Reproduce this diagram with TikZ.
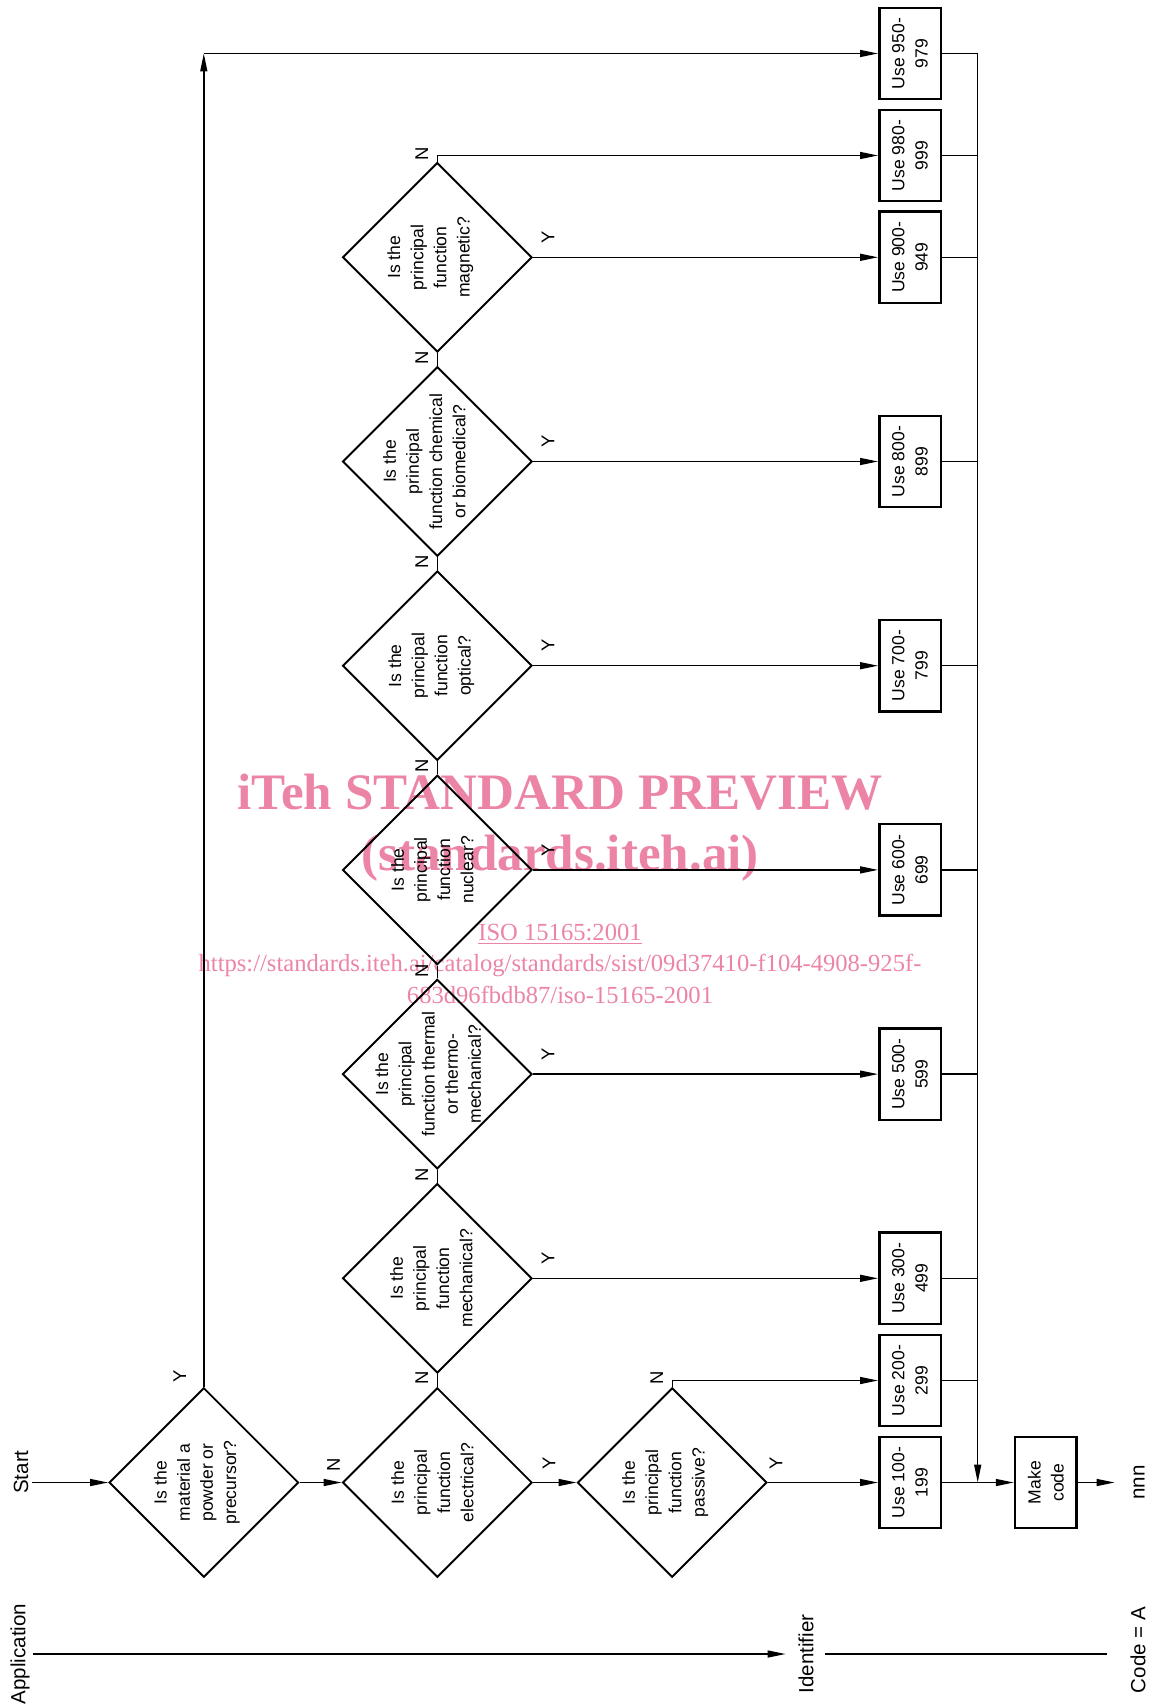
\documentclass[tikz,border=0pt]{standalone}
\usepackage{fontspec}
\setmainfont{Liberation Sans}
\newfontfamily\wmfont{Liberation Serif}
\usetikzlibrary{arrows.meta,calc,shapes.geometric}
\definecolor{wmpink}{RGB}{236,133,165}
\tikzset{flow/.style={line width=0.8pt, -{Triangle[length=3.6mm, width=1.4mm]}},
  link/.style={line width=0.8pt},
  dec/.style={diamond, draw, line width=1.1pt, minimum width=3.79cm, minimum height=3.79cm, inner sep=0pt},
  blk/.style={draw, line width=1.4pt, minimum width=1.23cm, minimum height=1.83cm, inner sep=0pt},
  qtxt/.style={rotate=90, align=center, inner sep=0pt, font=\fontsize{10}{13.2}\selectfont},
  yn/.style={rotate=90, inner sep=0pt, font=\fontsize{10.5}{12}\selectfont},
  lbl/.style={rotate=90, inner sep=2pt, font=\fontsize{11.7}{14}\selectfont},
  wm/.style={text=wmpink, inner sep=0pt, font=\wmfont\fontsize{14}{17}\selectfont}}

\begin{document}
\begin{tikzpicture}[x=0.02cm, y=-0.02cm]
  \useasboundingbox (0,0) rectangle (1155,1706);
  % watermark, behind the chart
  \node[wm, font=\wmfont\bfseries\fontsize{29.1}{30}\selectfont] (wm1) at (560,792) {iTeh STANDARD PREVIEW};
  \node[wm, font=\wmfont\bfseries\fontsize{29.1}{30}\selectfont] (wm2) at (560,858) {(standards.iteh.ai)};
  \node[wm] (wm3) at (560,934) {\underline{ISO 15165:2001}};
  \node[wm] (wm4) at (560,965.5) {https://standards.iteh.ai/catalog/standards/sist/09d37410-f104-4908-925f-};
  \node[wm] (wm5) at (560,994.5) {683d96fbdb87/iso-15165-2001};

  % decisions
  \node[dec] (pow) at (203.8,1482.5) {};
  \node[qtxt] (pow-t) at ($(pow)+(-7,0)$) {Is the\\material a\\powder or\\precursor?};
  \node[dec] (elec) at (437.3,1482.5) {};
  \node[qtxt] (elec-t) at ($(elec)+(-5,0)$) {Is the\\principal\\function\\electrical?};
  \node[dec] (pass) at (672.2,1482.5) {};
  \node[qtxt] (pass-t) at ($(pass)+(-7,0)$) {Is the\\principal\\function\\passive?};
  \node[dec] (mech) at (437.3,1278.3) {};
  \node[qtxt] (mech-t) at ($(mech)+(-6,0)$) {Is the\\principal\\function\\mechanical?};
  \node[dec] (therm) at (437.3,1074.1) {};
  \node[qtxt] (therm-t) at ($(therm)+(-9,0)$) {Is the\\principal\\function thermal\\or thermo-\\mechanical?};
  \node[dec] (nucl) at (437.3,869.9) {};
  \node[qtxt] (nucl-t) at ($(nucl)+(-5,0)$) {Is the\\principal\\function\\nuclear?};
  \node[dec] (opt) at (437.3,665.7) {};
  \node[qtxt] (opt-t) at ($(opt)+(-6,0)$) {Is the\\principal\\function\\optical?};
  \node[dec] (chem) at (437.3,461.5) {};
  \node[qtxt] (chem-t) at ($(chem)+(-13,0)$) {Is the\\principal\\function chemical\\or biomedical?};
  \node[dec] (magn) at (437.3,257.3) {};
  \node[qtxt] (magn-t) at ($(magn)+(-7,0)$) {Is the\\principal\\function\\magnetic?};

  % code range boxes
  \node[blk] (u100) at (910,1482.5) {};
  \node[qtxt] (u100-t) at (u100) {Use 100-\\199};
  \node[blk] (u200) at (910,1380.5) {};
  \node[qtxt] (u200-t) at (u200) {Use 200-\\299};
  \node[blk] (u300) at (910,1278.3) {};
  \node[qtxt] (u300-t) at (u300) {Use 300-\\499};
  \node[blk] (u500) at (910,1074.1) {};
  \node[qtxt] (u500-t) at (u500) {Use 500-\\599};
  \node[blk] (u600) at (910,869.9) {};
  \node[qtxt] (u600-t) at (u600) {Use 600-\\699};
  \node[blk] (u700) at (910,665.7) {};
  \node[qtxt] (u700-t) at (u700) {Use 700-\\799};
  \node[blk] (u800) at (910,461.5) {};
  \node[qtxt] (u800-t) at (u800) {Use 800-\\899};
  \node[blk] (u900) at (910,257.3) {};
  \node[qtxt] (u900-t) at (u900) {Use 900-\\949};
  \node[blk] (u980) at (910,155.5) {};
  \node[qtxt] (u980-t) at (u980) {Use 980-\\999};
  \node[blk] (u950) at (910,53.5) {};
  \node[qtxt] (u950-t) at (u950) {Use 950-\\979};
  \node[blk] (make) at (1045.8,1482.5) {};
  \node[qtxt] (make-t) at (make) {Make\\code};

  % outer labels (turned: north is their left side, south their right side)
  \node[lbl] (start) at (21,1472) {Start};
  \node[lbl] (app) at (20,1654) {Application};
  \node[lbl] (ident) at (806,1654) {Identifier};
  \node[lbl] (code) at (1138,1650) {Code = A};
  \node[lbl] (nnn) at (1139,1482.5) {nnn};

  % main line
  \draw[flow] (start.south |- pow) -- (pow.west);
  \draw[flow] (pow.east) -- (elec.west);
  \draw[flow] (elec.east) -- (pass.west);
  \draw[flow] (pass.east) -- (u100.west);
  \draw[flow] (pass.north) |- (u200.west);
  % N goes up the column, Y goes right
  \draw[link] (elec.north) -- (mech.south);
  \draw[link] (mech.north) -- (therm.south);
  \draw[link] (therm.north) -- (nucl.south);
  \draw[link] (nucl.north) -- (opt.south);
  \draw[link] (opt.north) -- (chem.south);
  \draw[link] (chem.north) -- (magn.south);
  \draw[flow] (mech.east) -- (u300.west);
  \draw[flow] (therm.east) -- (u500.west);
  \draw[flow] (nucl.east) -- (u600.west);
  \draw[flow] (opt.east) -- (u700.west);
  \draw[flow] (chem.east) -- (u800.west);
  \draw[flow] (magn.east) -- (u900.west);
  \draw[flow] (magn.north) |- (u980.west);
  % powder branch
  \coordinate (ytop) at (203.8,53.5);
  \draw[flow] (pow.north) -- (ytop);
  \draw[flow] (ytop) -- (u950.west);
  % collect into make code
  \coordinate (jn) at (977.7,1482.5);
  \draw[flow] (u950.east) -| (jn);
  \draw[link] (u980.east) -- (u980.east -| jn);
  \draw[link] (u900.east) -- (u900.east -| jn);
  \draw[link] (u800.east) -- (u800.east -| jn);
  \draw[link] (u700.east) -- (u700.east -| jn);
  \draw[link] (u600.east) -- (u600.east -| jn);
  \draw[link] (u500.east) -- (u500.east -| jn);
  \draw[link] (u300.east) -- (u300.east -| jn);
  \draw[link] (u200.east) -- (u200.east -| jn);
  \draw[flow] (u100.east) -- (make.west);
  \draw[flow, shorten >=3mm] (make.east) -- (nnn.north);
  % bottom line
  \draw[flow, shorten >=1.8mm] (app.south) -- (ident.north);
  \draw[link, shorten <=1.6mm, shorten >=4mm] (ident.south) -- (ident.south -| code.north);

  % Y / N marks
  \node[yn] (pow-y) at ($(pow.north)+(-24,-10)$) {Y};
  \node[yn] (pow-n) at ($(pow.east)+(34,-17.5)$) {N};
  \node[yn] (elec-y) at ($(elec.east)+(16,-19.5)$) {Y};
  \node[yn] (elec-n) at ($(elec.north)+(-15.6,-8.5)$) {N};
  \node[yn] (pass-y) at ($(pass.east)+(8,-19.5)$) {Y};
  \node[yn] (pass-n) at ($(pass.north)+(-15.5,-9.4)$) {N};
  \node[yn] (mech-y) at ($(mech.east)+(15,-20)$) {Y};
  \node[yn] (mech-n) at ($(mech.north)+(-15.6,-8)$) {N};
  \node[yn] (therm-y) at ($(therm.east)+(15,-20)$) {Y};
  \node[yn] (therm-n) at ($(therm.north)+(-15.6,-8)$) {N};
  \node[yn] (nucl-y) at ($(nucl.east)+(15,-20)$) {Y};
  \node[yn] (nucl-n) at ($(nucl.north)+(-15.6,-8)$) {N};
  \node[yn] (opt-y) at ($(opt.east)+(15,-20)$) {Y};
  \node[yn] (opt-n) at ($(opt.north)+(-15.6,-8)$) {N};
  \node[yn] (chem-y) at ($(chem.east)+(15,-20)$) {Y};
  \node[yn] (chem-n) at ($(chem.north)+(-15.6,-8)$) {N};
  \node[yn] (magn-y) at ($(magn.east)+(15,-20)$) {Y};
  \node[yn] (magn-n) at ($(magn.north)+(-15.6,-8)$) {N};
\end{tikzpicture}
\end{document}
